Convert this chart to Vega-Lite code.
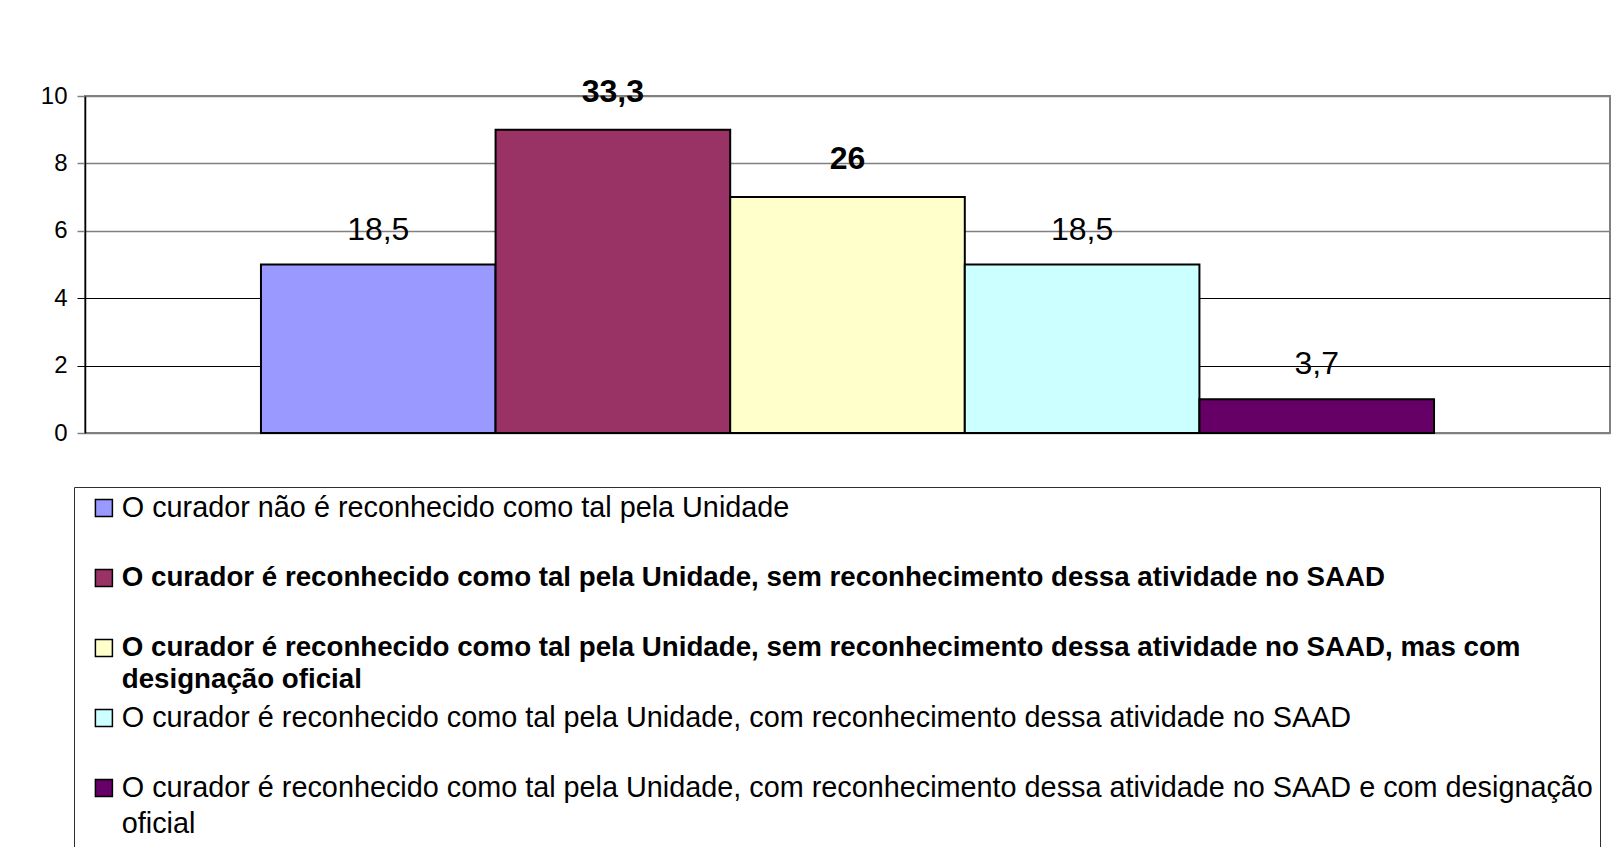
{
  "$schema": "https://vega.github.io/schema/vega-lite/v6.json",
  "autosize": {"type": "none"},
  "width": 1525,
  "height": 337,
  "padding": {"left": 85, "top": 96, "right": 8, "bottom": 414},
  "background": "white",
  "config": {
    "font": "Liberation Sans",
    "locale": {"number": {"decimal": ",", "thousands": ".", "grouping": [3], "currency": ["", ""]}},
    "view": {"stroke": "#808080", "strokeWidth": 2}
  },
  "data": {
    "values": [
      {"cat": "\u00a0O curador não é reconhecido como tal pela Unidade", "n": 5, "pct": 18.5},
      {"cat": "O curador é reconhecido como tal pela Unidade, sem reconhecimento dessa atividade no SAAD", "n": 9, "pct": 33.3},
      {"cat": "O curador é reconhecido como tal pela Unidade, sem reconhecimento dessa atividade no SAAD, mas com\ndesignação oficial", "n": 7, "pct": 26},
      {"cat": "O curador é reconhecido como tal pela Unidade, com reconhecimento dessa atividade no SAAD", "n": 5, "pct": 18.5},
      {"cat": "O curador é reconhecido como tal pela Unidade, com reconhecimento dessa atividade no SAAD e com designação\noficial", "n": 1, "pct": 3.7}
    ]
  },
  "encoding": {
    "x": {"field": "cat", "type": "nominal", "sort": null, "axis": null,
          "scale": {"paddingInner": 0, "paddingOuter": 0.75}},
    "y": {"field": "n", "type": "quantitative",
          "scale": {"domain": [0, 10]},
          "axis": {
            "values": [0, 2, 4, 6, 8, 10],
            "title": null,
            "grid": true,
            "gridColor": {"condition": {"test": "datum.value == 2 || datum.value == 4", "value": "black"}, "value": "#808080"},
            "gridWidth": {"condition": {"test": "datum.value == 2 || datum.value == 4", "value": 1}, "value": 1.5},
            "tickColor": {"condition": {"test": "datum.value == 2 || datum.value == 4", "value": "black"}, "value": "#808080"},
            "tickWidth": {"condition": {"test": "datum.value == 2 || datum.value == 4", "value": 1}, "value": 1.5},
            "tickSize": 8,
            "domainColor": "black",
            "domainWidth": 1.5,
            "labelFont": "Liberation Sans",
            "labelFontSize": 24,
            "labelColor": "black",
            "labelPadding": 10
          }}
  },
  "layer": [
    {
      "mark": {"type": "bar", "stroke": "black", "strokeWidth": 2},
      "encoding": {
        "color": {
          "field": "cat", "type": "nominal", "sort": null,
          "scale": {"range": ["#9999FF", "#993366", "#FFFFCC", "#CCFFFF", "#660066"]},
          "legend": {
            "orient": "none",
            "legendX": -11,
            "legendY": 391,
            "direction": "vertical",
            "columns": 1,
            "title": null,
            "symbolType": "square",
            "symbolSize": 289,
            "symbolStrokeColor": "black",
            "symbolStrokeWidth": 1.5,
            "symbolOpacity": 1,
            "symbolOffset": 8.5,
            "labelFont": "Liberation Sans",
            "labelFontSize": 28.5,
            "labelColor": "black",
            "labelLimit": 2000,
            "labelOffset": 3.5,
            "labelExpr": "split(datum.label, '\\n')",
            "strokeColor": "#303030",
            "padding": 7,
            "rowPadding": 0,
            "clipHeight": 70,
            "encode": {
              "symbols": {"update": {"y": {"value": 14}}},
              "labels": {"update": {
                "y": {"value": 14},
                "fontWeight": {"signal": "test(/sem reconhecimento/, datum.value) ? 'bold' : 'normal'"},
                "fontSize": {"signal": "test(/sem reconhecimento/, datum.value) ? 27.7 : 28.8"},
                "lineHeight": {"signal": "test(/sem reconhecimento/, datum.value) ? 32 : 36"}
              }}
            }
          }
        }
      }
    },
    {
      "transform": [{"filter": "!test(/sem reconhecimento/, datum.cat)"}],
      "mark": {"type": "text", "dy": -35, "baseline": "middle", "fontSize": 32, "font": "Liberation Sans", "color": "black"},
      "encoding": {"text": {"field": "pct", "type": "quantitative", "format": ".1~f"}}
    },
    {
      "transform": [{"filter": "test(/sem reconhecimento/, datum.cat)"}],
      "mark": {"type": "text", "dy": -38, "baseline": "middle", "fontSize": 32, "fontWeight": "bold", "font": "Liberation Sans", "color": "black"},
      "encoding": {"text": {"field": "pct", "type": "quantitative", "format": ".1~f"}}
    }
  ]
}
